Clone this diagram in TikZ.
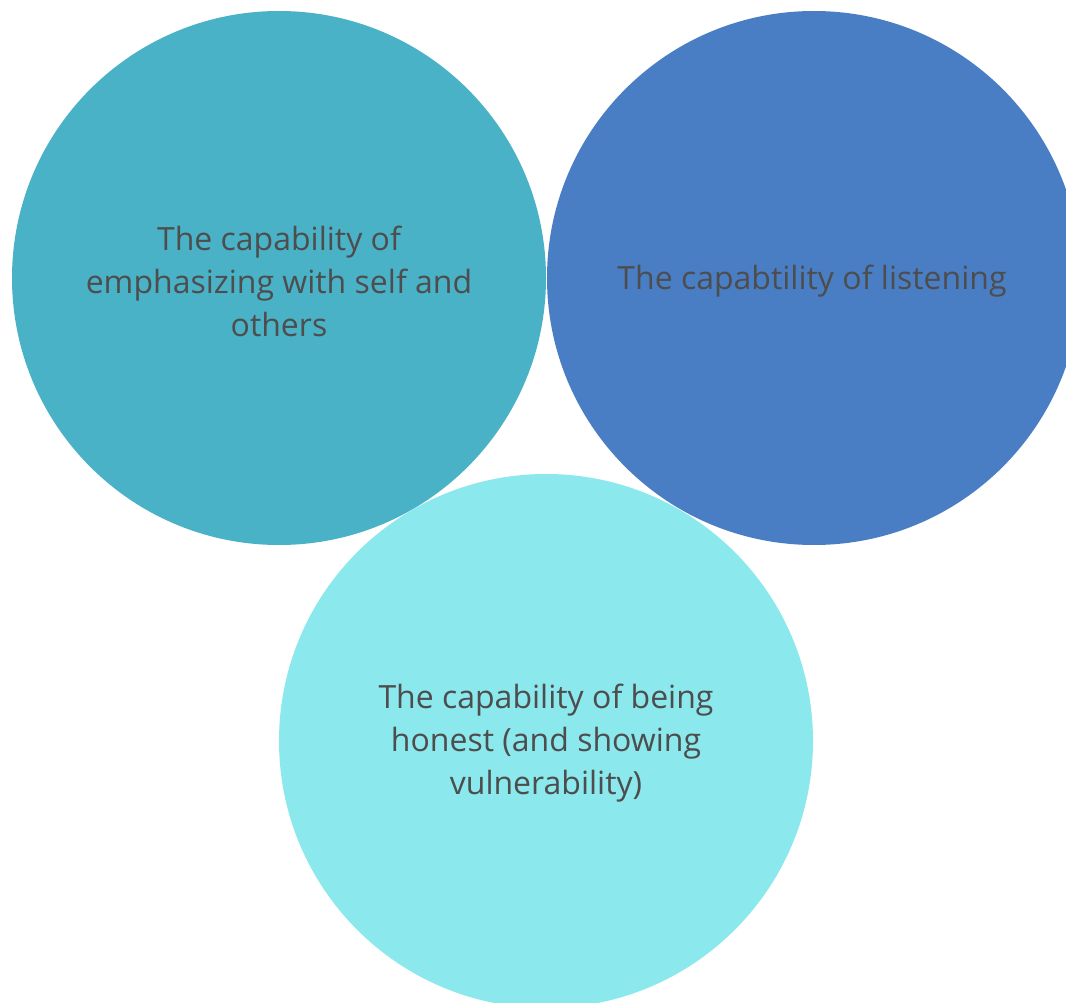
\documentclass[tikz,border=0pt]{standalone}
\usepackage{fontspec}
\setmainfont{Open Sans}
\definecolor{cA}{HTML}{4AB2C6}
\definecolor{cB}{HTML}{4A7EC4}
\definecolor{cC}{HTML}{8BE8ED}
\definecolor{txt}{HTML}{4D4D4D}
\begin{document}
\begin{tikzpicture}[x=1pt,y=-1pt,
  bubble/.style={circle,minimum size=534pt,inner sep=0pt},
  caption/.style={text=txt,align=center,inner sep=0pt,
    font=\fontsize{32}{43}\selectfont}]
\useasboundingbox (0,0) rectangle (1066,1003);
\clip (0,0) rectangle (1066,1003);
\fill[white] (0,0) rectangle (1066,1003);
\node[bubble,fill=cA] (a) at (279,278) {};
\node[bubble,fill=cB] (b) at (814,278) {};
\node[bubble,fill=cC] (c) at (546,741) {};
\node[caption] (ta) at ([yshift=-3pt]a.center) {The capability of\\emphasizing with self and\\others};
\node[caption] (tb) at ([xshift=-2pt,yshift=-3pt]b.center) {The capabtility of listening};
\node[caption] (tc) at ([yshift=-2pt]c.center) {The capability of being\\honest (and showing\\vulnerability)};
\end{tikzpicture}
\end{document}
